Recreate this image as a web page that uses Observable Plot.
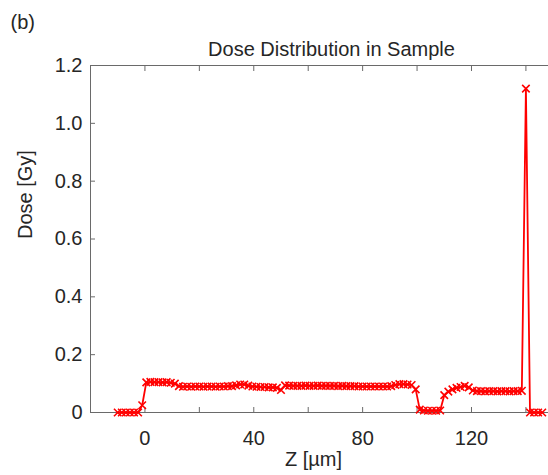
<!DOCTYPE html>
<html><head><meta charset="utf-8">
<script src="https://cdn.jsdelivr.net/npm/d3@7"></script>
<script src="https://cdn.jsdelivr.net/npm/@observablehq/plot@0.6"></script>
<style>
html,body{margin:0;padding:0;background:#fff;overflow:hidden}
#chart{position:relative;width:548px;height:475px}
</style></head><body><div id="chart"></div>
<script>
const zValues = [-10, -8.5, -7, -5.5, -4, -2.5, -1,
  0.5, 2, 3.5, 5, 6.5, 8, 9.5, 11, 12.5, 14, 15.5, 17, 18.5, 20, 21.5, 23, 24.5, 26, 27.5, 29, 30.5, 32,
  33.5, 35, 36.5, 38, 39.5, 41, 42.5, 44, 45.5, 47, 48.5, 50, 51.5, 53, 54.5, 56, 57.5, 59, 60.5, 62,
  63.5, 65, 66.5, 68, 69.5, 71, 72.5, 74, 75.5, 77, 78.5, 80, 81.5, 83, 84.5, 86, 87.5, 89, 90.5, 92,
  93.5, 95, 96.5, 98, 99.5, 101, 102.5, 104, 105.5, 107, 108.5, 110, 111.5, 113, 114.5, 116, 117.5, 119,
  120.5, 122, 123.5, 125, 126.5, 128, 129.5, 131, 132.5, 134, 135.5, 137, 138.5, 140,
  141.5, 143, 144.5, 146];
const doseValues = [0, 0, 0, 0, 0, 0, 0.025,
  0.104, 0.106, 0.105, 0.105, 0.104, 0.105, 0.103, 0.100, 0.091, 0.089, 0.090, 0.089, 0.090, 0.090, 0.089, 0.090, 0.090, 0.089, 0.090, 0.090, 0.091, 0.091,
  0.094, 0.097, 0.097, 0.093, 0.090, 0.089, 0.088, 0.088, 0.087, 0.087, 0.085, 0.078, 0.094, 0.093, 0.092, 0.092, 0.092, 0.093, 0.092, 0.092,
  0.093, 0.092, 0.092, 0.092, 0.092, 0.091, 0.092, 0.091, 0.091, 0.091, 0.090, 0.090, 0.090, 0.090, 0.090, 0.090, 0.090, 0.090, 0.091, 0.095,
  0.098, 0.098, 0.097, 0.095, 0.080, 0.010, 0.007, 0.006, 0.006, 0.006, 0.007, 0.060, 0.072, 0.080, 0.085, 0.088, 0.092, 0.087,
  0.076, 0.074, 0.074, 0.073, 0.074, 0.074, 0.073, 0.074, 0.074, 0.073, 0.074, 0.074, 0.075, 1.12,
  0, 0, 0, 0];
const xTicks = [0, 20, 40, 60, 80, 100, 120, 140];
const xLabeled = [0, 40, 80, 120];
const yTicks = [0, 0.2, 0.4, 0.6, 0.8, 1.0, 1.2];
const yTickLabels = ["0", "0.2", "0.4", "0.6", "0.8", "1.0", "1.2"];
const titleText = "Dose Distribution in Sample";
const panelLabel = "(b)";
const xLabel = "Z [µm]";
const yLabel = "Dose [Gy]";

const data = zValues.map((z, i) => ({z, dose: doseValues[i]}));
const axisColor = "#6a6a6a";
const textColor = "#262626";

const chart = Plot.plot({
  width: 548, height: 475,
  marginTop: 65, marginBottom: 63, marginLeft: 90, marginRight: 0,
  style: {fontFamily: "'Liberation Sans', Arial, sans-serif", fontSize: "20px", color: textColor, background: "#fff", overflow: "visible"},
  x: {domain: [-20, 148.3]},
  y: {domain: [0, 1.2]},
  marks: [
    Plot.ruleY([0, 1.2], {stroke: axisColor, strokeWidth: 1}),
    Plot.ruleX([-20], {stroke: axisColor, strokeWidth: 1}),
    Plot.axisX(xTicks, {anchor: "bottom", tickSize: -5, tickPadding: 23, stroke: axisColor, fill: textColor, fontSize: 20,
      tickFormat: d => xLabeled.includes(d) ? String(d) : "", label: null}),
    Plot.axisX(xTicks, {anchor: "top", tickSize: -5, stroke: axisColor, tickFormat: () => "", label: null}),
    Plot.axisY(yTicks, {anchor: "left", tickSize: -5, tickPadding: 13, stroke: axisColor, fill: textColor, fontSize: 20,
      tickFormat: d => yTickLabels[yTicks.indexOf(d)], label: null}),
    Plot.line(data, {x: "z", y: "dose", stroke: "#ff0000", strokeWidth: 1.8}),
    Plot.dot(data, {x: "z", y: "dose", symbol: "times", r: 3.5, stroke: "#ff0000", strokeWidth: 1.6}),
    Plot.text([titleText], {frameAnchor: "top", dx: 12, dy: -24, fontSize: 20, fill: textColor}),
    Plot.text([panelLabel], {frameAnchor: "top-left", dx: -80, dy: -51, textAnchor: "start", fontSize: 20, fill: textColor}),
    Plot.text([yLabel], {frameAnchor: "left", dx: -65, rotate: -90, fontSize: 20, fill: textColor}),
    Plot.text([xLabel], {frameAnchor: "bottom", dx: -6, dy: 53, fontSize: 20, fill: textColor})
  ]
});
document.getElementById("chart").appendChild(chart);
</script></body></html>
